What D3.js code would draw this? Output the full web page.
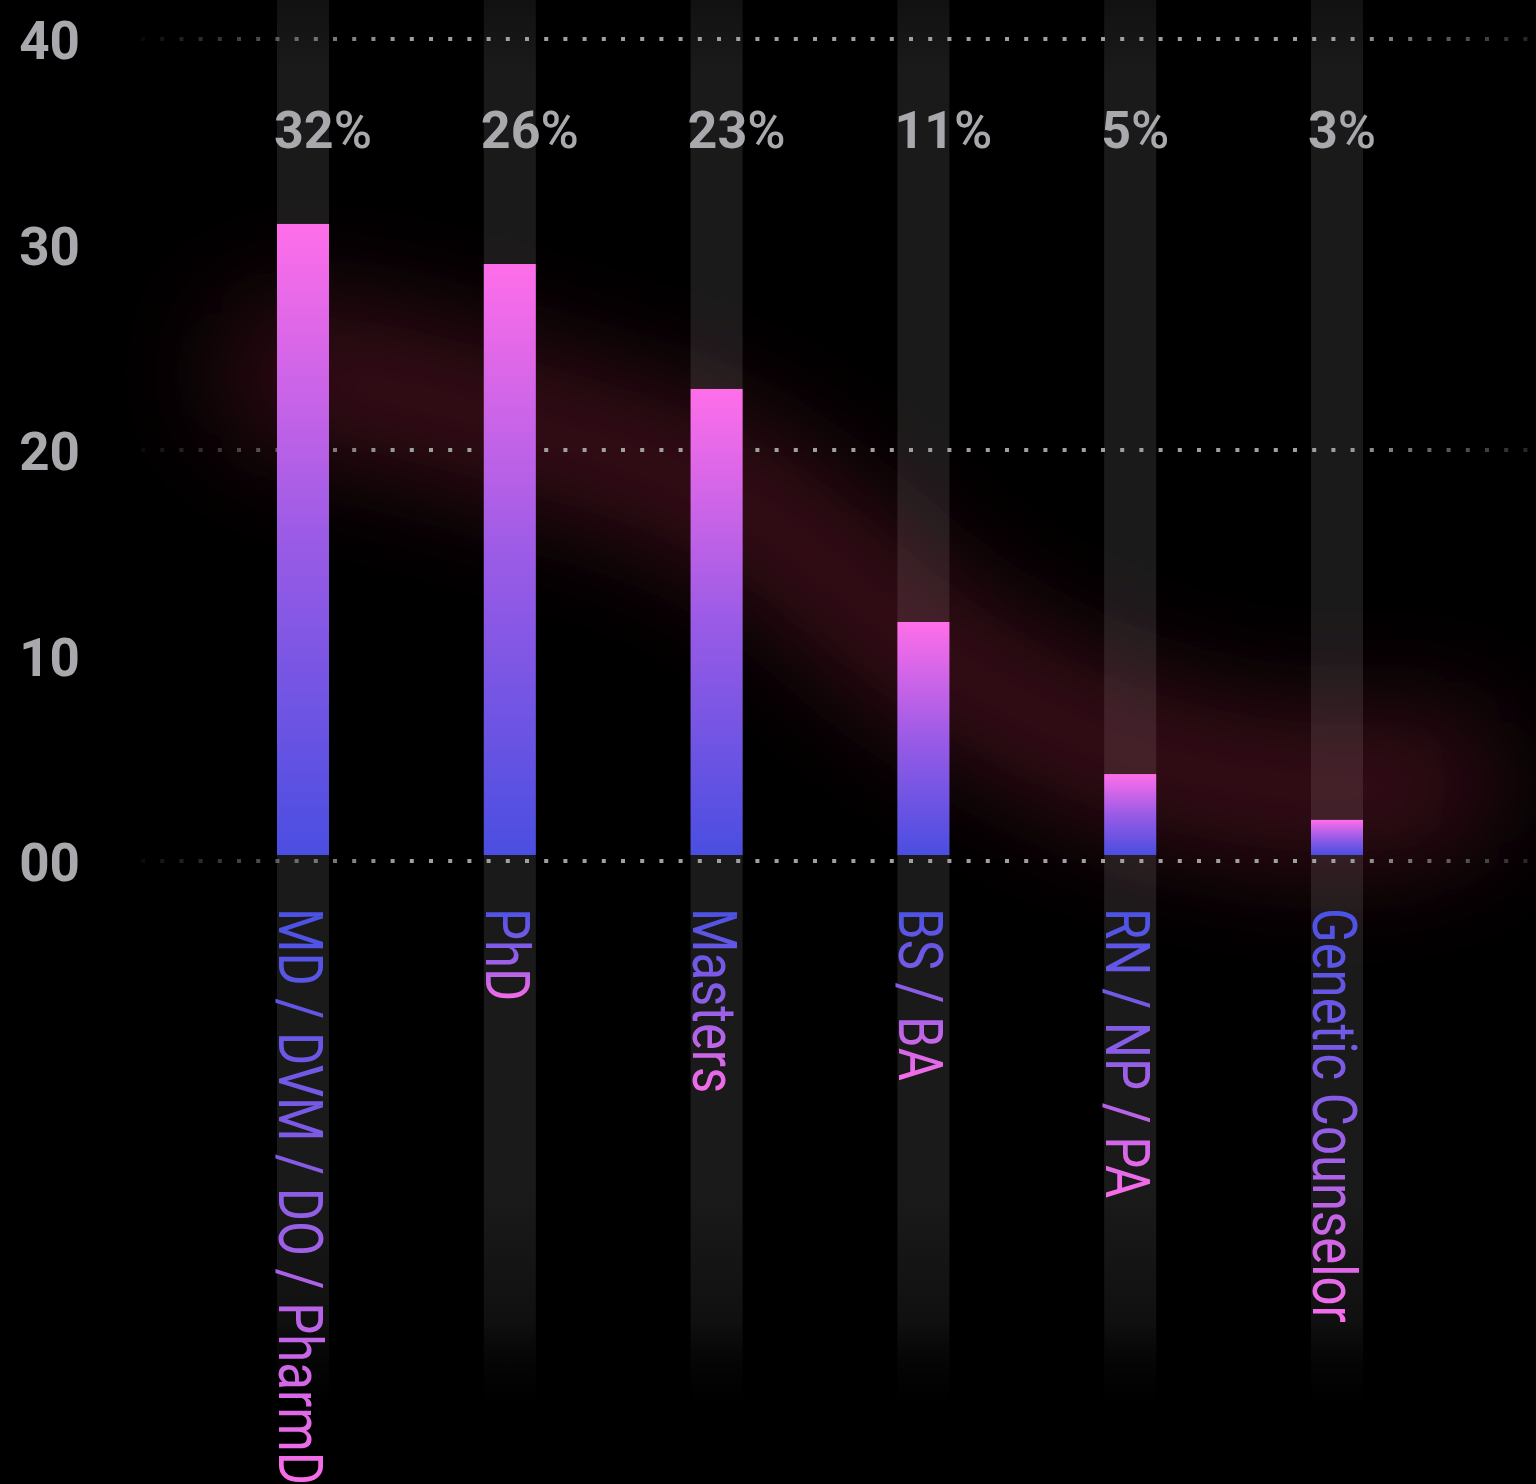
<!DOCTYPE html>
<html>
<head>
<meta charset="utf-8">
<script src="https://cdn.jsdelivr.net/npm/d3@7"></script>
<style>
  html, body { margin: 0; padding: 0; background: #000; }
  svg { display: block; }
</style>
</head>
<body>
<svg id="chart" width="1536" height="1484"></svg>
<script>
// ---- data ----
const categories = ["MD / DVM / DO / PharmD", "PhD", "Masters", "BS / BA", "RN / NP / PA", "Genetic Counselor"];
const barValues = [31, 29.05, 22.97, 11.63, 4.23, 2.0];
const percentLabels = ["32", "26", "23", "11", "5", "3"];
const glowValues = [23.5, 21, 17.5, 9.5, 4.8, 3.4];
const yTickValues = [0, 10, 20, 30, 40];
const gridValues = [0, 20, 40];

const W = 1536, H = 1484;
const svg = d3.select("#chart");
svg.append("rect").attr("width", W).attr("height", H).attr("fill", "#000");

const y = d3.scaleLinear().domain([0, 40]).range([861, 39]);
const x = d3.scaleBand().domain(categories).range([277, 1363]).paddingInner(0.7485).paddingOuter(0);
const bw = x.bandwidth();

const defs = svg.append("defs");

// column gradient
const colG = defs.append("linearGradient").attr("id", "colGrad")
  .attr("gradientUnits", "userSpaceOnUse").attr("x1", 0).attr("x2", 0).attr("y1", 0).attr("y2", 1420);
[[0, "#111111", 1], [0.05, "#1a1a1a", 1], [0.84, "#1a1a1a", 1], [0.93, "#101010", 1], [1, "#000000", 0]]
  .forEach(([o, c, op]) => colG.append("stop").attr("offset", o).attr("stop-color", c).attr("stop-opacity", op));

// bar gradient
const barG = defs.append("linearGradient").attr("id", "barGrad")
  .attr("x1", 0).attr("x2", 0).attr("y1", 0).attr("y2", 1);
barG.append("stop").attr("offset", 0).attr("stop-color", "#ff6ee9");
barG.append("stop").attr("offset", 0.5).attr("stop-color", "#9a5be6");
barG.append("stop").attr("offset", 1).attr("stop-color", "#4a4ee1");

// label gradient
const labG = defs.append("linearGradient").attr("id", "labGrad")
  .attr("x1", 0).attr("x2", 1).attr("y1", 0).attr("y2", 0);
labG.append("stop").attr("offset", 0).attr("stop-color", "#4a52e4");
labG.append("stop").attr("offset", 0.5).attr("stop-color", "#8c5de6");
labG.append("stop").attr("offset", 1).attr("stop-color", "#fa6de8");

// grid gradient
const gridG = defs.append("linearGradient").attr("id", "gridGrad")
  .attr("gradientUnits", "userSpaceOnUse").attr("x1", 141).attr("x2", W).attr("y1", 0).attr("y2", 0);
[[0, 0.06], [0.19, 1], [0.86, 1], [1, 0.2]]
  .forEach(([o, op]) => gridG.append("stop").attr("offset", o).attr("stop-color", "#a0a0a0").attr("stop-opacity", op));

// glow filter
const blur = defs.append("filter").attr("id", "glowBlur")
  .attr("filterUnits", "userSpaceOnUse").attr("x", 0).attr("y", 0).attr("width", W).attr("height", H);
blur.append("feGaussianBlur").attr("stdDeviation", 60);

// ---- background columns ----
svg.append("g").selectAll("rect").data(categories).join("rect")
  .attr("x", d => x(d)).attr("y", 0).attr("width", bw).attr("height", 1420)
  .attr("fill", "url(#colGrad)");

// ---- glow ----
const step = x.step();
const glowPts = glowValues.map((v, i) => [x(categories[i]) + bw / 2 + 25, y(v)]);
glowPts.unshift([glowPts[0][0] - step * 0.2, glowPts[0][1] - 5]);
glowPts.push([glowPts[glowPts.length - 1][0] + step * 0.35, glowPts[glowPts.length - 1][1] - 10]);
svg.append("path")
  .attr("d", d3.line().curve(d3.curveMonotoneX)(glowPts))
  .attr("fill", "none").attr("stroke", "#ff3c6e").attr("stroke-opacity", 0.25)
  .attr("stroke-width", 130).attr("stroke-linecap", "round")
  .attr("filter", "url(#glowBlur)");

// ---- grid lines ----
svg.append("g").selectAll("line").data(gridValues).join("line")
  .attr("x1", 141).attr("x2", W).attr("y1", d => y(d)).attr("y2", d => y(d))
  .attr("stroke", "url(#gridGrad)").attr("stroke-width", 4).attr("stroke-dasharray", "4 15.2");

// ---- bars ----
svg.append("g").selectAll("rect").data(barValues).join("rect")
  .attr("x", (d, i) => x(categories[i])).attr("width", bw)
  .attr("y", d => y(d)).attr("height", d => y(0) - 6 - y(d))
  .attr("fill", "url(#barGrad)");

// ---- y axis labels ----
const yAxis = svg.append("g").attr("transform", "translate(80,0)")
  .call(d3.axisLeft(y).tickValues(yTickValues).tickFormat(d3.format("02d")).tickSize(0).tickPadding(0));
yAxis.select(".domain").remove();
yAxis.selectAll("text")
  .attr("dy", "0.37em")
  .attr("fill", "#a8a8ad").attr("font-family", "Roboto").attr("font-weight", 700).attr("font-size", 53);

// ---- percent labels ----
const pl = svg.append("g").selectAll("text").data(percentLabels).join("text")
  .attr("x", (d, i) => x(categories[i]) - 3).attr("y", y(40) + 109)
  .attr("fill", "#a8a8ad").attr("font-family", "Roboto").attr("font-size", 52);
pl.append("tspan").attr("font-weight", 700).text(d => d);
pl.append("tspan").attr("font-weight", 500).text("%");

// ---- category labels ----
svg.append("g").selectAll("text").data(categories).join("text")
  .attr("transform", d => `translate(${x(d) + 2},${y(0) + 47}) rotate(90) scale(0.82,1)`)
  .attr("font-family", "Roboto").attr("font-size", 62)
  .attr("fill", "url(#labGrad)")
  .text(d => d);
</script>
</body>
</html>
